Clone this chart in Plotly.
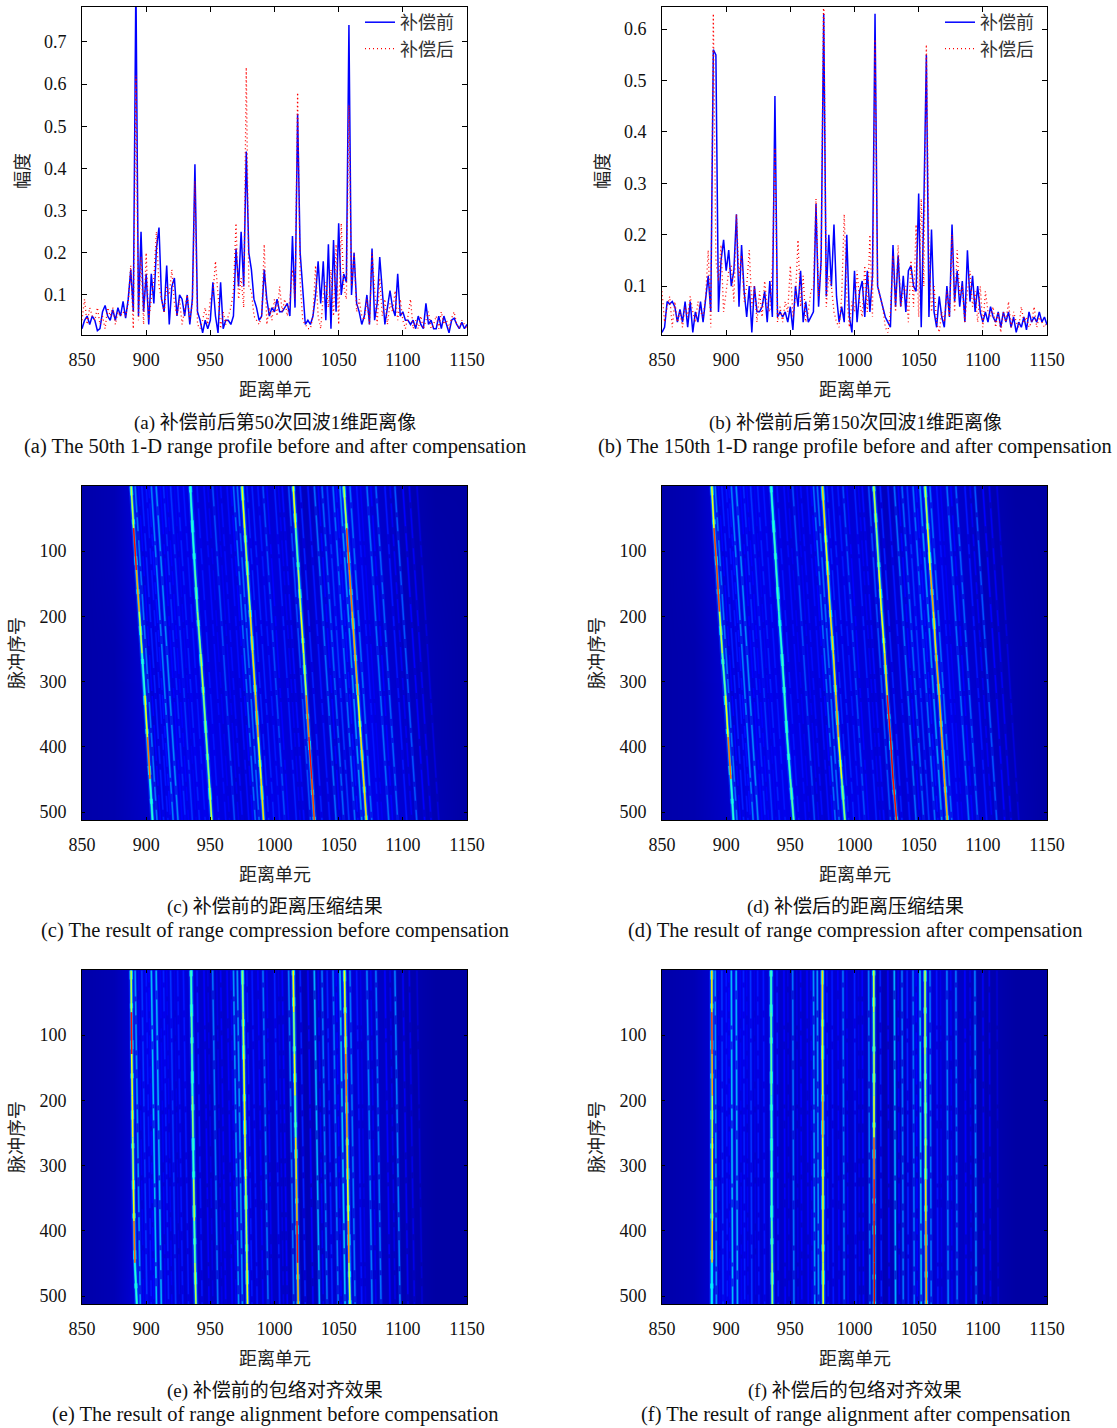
import plotly.graph_objects as go

# ---------- line-profile data (range cells 850..1150, every 2) ----------
range_cells = list(range(850, 1151, 2))
a_before = [
 .02,.04,.05,.03,.05,.04,.015,.02,.06,.075,
 .05,.04,.065,.04,.07,.05,.085,.045,.09,.16,
 .06,.85,.05,.25,.06,.15,.03,.15,.08,.21,
 .26,.09,.06,.17,.03,.12,.14,.05,.10,.09,
 .05,.10,.03,.09,.41,.06,.04,.01,.04,.02,
 .04,.13,.05,.01,.13,.02,.04,.04,.03,.05,
 .21,.12,.25,.12,.44,.20,.16,.09,.07,.04,
 .05,.16,.09,.05,.07,.06,.09,.06,.06,.07,
 .08,.05,.24,.07,.53,.20,.11,.03,.04,.03,
 .05,.10,.18,.08,.18,.04,.22,.02,.23,.06,
 .27,.10,.15,.13,.74,.10,.20,.08,.06,.03,
 .05,.10,.03,.21,.04,.08,.19,.10,.03,.07,
 .11,.07,.05,.15,.05,.06,.04,.04,.03,.04,
 .02,.05,.03,.02,.08,.03,.04,.02,.02,.05,
 .02,.05,.03,.01,.04,.045,.03,.02,.035,.02,.03]
a_after = [
 .04,.09,.03,.07,.05,.04,.07,.03,.05,.02,
 .07,.05,.07,.03,.06,.05,.06,.05,.08,.17,
 .02,.62,.04,.19,.03,.20,.04,.09,.14,.25,
 .12,.09,.06,.12,.10,.16,.08,.05,.09,.03,
 .07,.10,.04,.08,.37,.03,.02,.04,.07,.03,
 .09,.10,.18,.09,.02,.06,.03,.05,.07,.11,
 .27,.09,.14,.07,.64,.12,.11,.05,.04,.03,
 .05,.22,.03,.07,.04,.09,.05,.12,.06,.09,
 .05,.09,.16,.09,.58,.13,.04,.03,.02,.02,
 .05,.17,.05,.02,.10,.13,.07,.16,.05,.22,
 .03,.27,.12,.09,.55,.12,.20,.06,.09,.05,
 .04,.09,.03,.20,.11,.03,.14,.05,.09,.03,
 .08,.06,.11,.04,.09,.04,.02,.05,.09,.02,
 .04,.02,.05,.02,.04,.06,.02,.03,.05,.02,
 .06,.03,.04,.02,.045,.06,.03,.02,.04,.03,.02]
b_before = [
 .01,.02,.07,.065,.07,.06,.03,.055,.03,.07,
 .02,.07,.01,.05,.03,.07,.03,.07,.12,.05,
 .56,.55,.05,.15,.19,.13,.17,.10,.13,.24,
 .06,.18,.09,.04,.10,.01,.10,.05,.05,.06,
 .09,.03,.11,.04,.47,.04,.05,.04,.05,.03,
 .06,.015,.10,.06,.13,.03,.07,.03,.04,.05,
 .26,.06,.15,.63,.08,.20,.10,.22,.08,.03,
 .06,.03,.20,.04,.01,.13,.03,.09,.11,.04,
 .13,.05,.12,.63,.10,.08,.06,.04,.03,.02,
 .18,.06,.16,.06,.12,.05,.13,.14,.10,.09,
 .28,.02,.25,.55,.04,.21,.05,.02,.08,.04,
 .02,.10,.04,.22,.07,.13,.06,.11,.03,.17,
 .07,.12,.05,.10,.05,.03,.05,.03,.06,.04,
 .03,.05,.02,.05,.03,.05,.02,.04,.01,.03,
 .02,.04,.015,.05,.03,.04,.03,.05,.03,.04,.025]
b_after = [
 .09,.03,.06,.08,.02,.07,.03,.05,.02,.06,
 .04,.08,.05,.03,.07,.05,.04,.08,.17,.02,
 .63,.15,.11,.18,.05,.09,.13,.14,.07,.24,
 .12,.16,.07,.10,.17,.06,.10,.03,.09,.04,
 .11,.06,.05,.14,.37,.03,.06,.03,.07,.05,
 .14,.04,.08,.19,.06,.12,.03,.05,.09,.10,
 .27,.08,.14,.68,.06,.12,.10,.05,.03,.02,
 .08,.24,.08,.02,.07,.05,.13,.07,.04,.14,
 .05,.20,.04,.58,.10,.08,.06,.02,.01,.05,
 .16,.05,.18,.06,.09,.10,.03,.15,.06,.22,
 .04,.27,.10,.57,.17,.05,.10,.03,.01,.05,
 .03,.09,.04,.20,.05,.17,.08,.10,.03,.09,
 .13,.06,.09,.03,.10,.02,.09,.05,.04,.06,
 .02,.05,.01,.05,.03,.07,.02,.05,.03,.02,
 .06,.03,.04,.02,.03,.06,.02,.04,.03,.02,.03]

# ---------- image-panel data ----------
bg_cols = list(range(850, 1151, 25))
bg_rows = [1, 128, 256, 384, 512]
bg_slanted = [
 [.035,.045,.09,.09,.07,.08,.07,.05,.09,.07,.045,.03,.03],
 [.035,.045,.08,.09,.08,.08,.08,.06,.09,.08,.05,.035,.03],
 [.035,.04,.07,.09,.08,.08,.08,.06,.09,.08,.055,.04,.03],
 [.035,.04,.065,.09,.09,.07,.08,.07,.07,.09,.065,.04,.03],
 [.035,.04,.06,.09,.09,.07,.09,.07,.07,.09,.07,.045,.03]]
bg_aligned = [
 [.035,.045,.09,.08,.06,.07,.07,.045,.08,.065,.045,.03,.03],
 [.035,.045,.09,.08,.06,.07,.07,.045,.08,.065,.045,.03,.03],
 [.035,.045,.08,.07,.06,.07,.06,.045,.07,.065,.045,.03,.03],
 [.035,.045,.08,.07,.06,.07,.06,.045,.07,.065,.045,.03,.03],
 [.035,.045,.09,.07,.06,.07,.06,.045,.07,.065,.045,.03,.03]]

main_rows = [1, 65, 129, 193, 257, 321, 385, 449, 512]
main_c = [
 [888.3,890.2,892.4,894.6,896.8,899,901,903,905],
 [934.4,936,938,940,942.5,944.7,946.8,949,951],
 [974.7,976.7,978.8,981,983,985.2,987.3,989.5,991.5],
 [1014.6,1016.5,1018.5,1020.5,1022.7,1024.7,1026.8,1029,1031],
 [1054,1056.2,1058.3,1060.5,1062.7,1065,1067.2,1069.4,1071.6]]
main_d = [
 [888.8,890.5,892.8,894.8,897,899.5,901.5,903.7,905.7],
 [935,937,939,941,943.5,945.5,947.5,950,952.6],
 [975,977,979,981,983.5,985.5,987.5,990,992.5],
 [1015,1017,1019,1021,1023.5,1025.5,1028,1030,1032.8],
 [1055,1057,1059,1061.5,1063.5,1066,1068,1070,1072.4]]
main_e = [
 [888.3,888.5,888.7,889.2,889.5,890,890.5,891.2,892.7],
 [935,935.3,935.7,936,936.5,937,937.5,938,938.8],
 [975,975.5,976,976.5,977,977.5,978,978.5,979],
 [1014.6,1015,1015.5,1016,1016.5,1017,1017.5,1018,1018.5],
 [1054.5,1055,1055.5,1056,1056.5,1057,1057.5,1058,1058.8]]
main_f = [
 [888.8,888.8,889,889.2,889.2,889.2,889.2,889,888.8],
 [935,935,935.2,935.2,935.4,935.4,935.5,935.8,936],
 [975,975,975,975.2,975.2,975.4,975.4,975.5,975.6],
 [1015,1015,1015.2,1015.2,1015.2,1015.3,1015.3,1015.4,1015.4],
 [1055,1055,1055,1055.2,1055.4,1055.4,1055.6,1055.8,1056]]
level_c = [
 [.55,.85,.7,.55,.4,.6,.75,.4],[.4,.4,.45,.5,.55,.5,.5,.55],
 [.6,.55,.55,.65,.65,.7,.6,.65],[.6,.45,.55,.6,.55,.75,.85,.8],
 [.55,.8,.75,.7,.7,.6,.65,.65]]
level_d = [
 [.6,.8,.8,.55,.45,.6,.75,.4],[.4,.42,.42,.4,.42,.42,.42,.45],
 [.65,.6,.65,.65,.65,.7,.6,.5],[.55,.5,.6,.6,.65,.85,.88,.85],
 [.55,.6,.7,.65,.7,.7,.72,.7]]
level_e = [
 [.55,.85,.6,.62,.55,.62,.75,.4],[.42,.45,.42,.5,.42,.55,.45,.55],
 [.5,.55,.6,.62,.6,.55,.55,.6],[.62,.5,.6,.45,.65,.7,.85,.7],
 [.6,.65,.75,.72,.65,.6,.72,.55]]
level_f = [
 [.65,.8,.7,.55,.6,.55,.65,.35],[.42,.45,.45,.42,.42,.42,.45,.5],
 [.65,.62,.62,.68,.62,.62,.62,.6],[.55,.5,.55,.6,.78,.85,.9,.9],
 [.55,.55,.5,.5,.55,.65,.72,.72]]

minor_x = [891.4,896.6,900,904,907.8,913.5,919,924.5,929,939.6,945,951.8,958,963,968,971,978.5,
           982.5,987,991,1000,1006,1011,1020,1026,1031,1037,1041,1045.6,1051,1058.8,1064,1072,
           1079,1086,1093.8,1100,1105,1111,
           894,902,911,916,922,948,955,966,974,994,1003,1034,1048,1067,1075,1090]
minor_level_cd = [.22,.14,.13,.23,.24,.15,.16,.14,.13,.13,.12,.18,.12,.12,.21,.21,.14,.14,.13,.18,.14,.12,
                  .18,.14,.13,.21,.2,.16,.21,.25,.21,.13,.21,.2,.13,.19,.11,.1,.08,
                  .11,.12,.11,.11,.1,.1,.1,.11,.11,.11,.1,.11,.12,.1,.11,.1]
minor_level_ef = [.25,.16,.13,.29,.28,.14,.16,.13,.13,.13,.11,.22,.11,.11,.25,.25,.13,.13,.11,.22,.14,.11,
                  .22,.14,.11,.28,.22,.14,.22,.3,.22,.13,.23,.22,.11,.23,.1,.09,.07,
                  .1,.11,.1,.1,.09,.09,.09,.1,.1,.1,.09,.1,.11,.09,.1,.09]
minor_drift = {"c": 17, "d": 17, "e": 4, "f": 1}
minor_dash = ["26px,5px,14px,9px", "40px,7px,18px,6px", "16px,6px,30px,10px", "55px,4px,12px,8px",
              "20px,9px,36px,5px", "12px,5px,24px,7px", "48px,10px,10px,4px"]
bead_dash = ["9px,24px,5px,32px", "6px,28px,12px,21px", "14px,35px,7px,19px", "5px,22px,9px,40px", "11px,26px,6px,23px"]

# ---------- text ----------
x_ticks = [850, 900, 950, 1000, 1050, 1100, 1150]
pulse_ticks = [100, 200, 300, 400, 500]
amp_ticks_a = [0.1, 0.2, 0.3, 0.4, 0.5, 0.6, 0.7]
amp_ticks_b = [0.1, 0.2, 0.3, 0.4, 0.5, 0.6]
legend_names = ["补偿前", "补偿后"]
xlabel, ylabel_line, ylabel_img = "距离单元", "幅度", "脉冲序号"
captions = [
 ("(a) 补偿前后第50次回波1维距离像", "(a) The 50th 1-D range profile before and after compensation", 275, 423),
 ("(b) 补偿前后第150次回波1维距离像", "(b) The 150th 1-D range profile before and after compensation", 855, 423),
 ("(c) 补偿前的距离压缩结果", "(c) The result of range compression before compensation", 275, 907),
 ("(d) 补偿后的距离压缩结果", "(d) The result of range compression after compensation", 855, 907),
 ("(e) 补偿前的包络对齐效果", "(e) The result of range alignment before compensation", 275, 1391),
 ("(f) 补偿后的包络对齐效果", "(f) The result of range alignment after compensation", 855, 1391),
]

# ---------- layout helpers ----------
W, H = 1117, 1428
FONT = "'Liberation Serif','Noto Sans CJK SC',serif"
CJK = "'Noto Sans CJK SC',sans-serif"
JET = [[0, "rgb(0,0,130)"], [.11, "rgb(0,0,255)"], [.36, "rgb(0,255,255)"],
       [.61, "rgb(255,255,0)"], [.86, "rgb(255,0,0)"], [1, "rgb(128,0,0)"]]

def jet(v):
    stops = [(0, (0, 0, 130)), (.11, (0, 0, 255)), (.36, (0, 255, 255)),
             (.61, (255, 255, 0)), (.86, (255, 0, 0)), (1, (128, 0, 0))]
    for (a, ca), (b, cb) in zip(stops, stops[1:]):
        if v <= b:
            t = (v - a) / (b - a)
            return "rgb(%d,%d,%d)" % tuple(round(p + (q - p) * t) for p, q in zip(ca, cb))
    return "rgb(128,0,0)"

fig = go.Figure()
anns = []
layout = dict(width=W, height=H, margin=dict(l=0, r=0, t=0, b=0), autosize=False,
              paper_bgcolor="white", plot_bgcolor="white", showlegend=True,
              font=dict(family=FONT, size=18, color="#111"))

def label(text, px, py, angle=0):
    anns.append(dict(text=text, x=px / W, y=1 - py / H, xref="paper", yref="paper", xanchor="center",
                     yanchor="middle", textangle=angle, showarrow=False,
                     font=dict(family=CJK, size=18, color="#222")))

def axes(idx, left, right, top, bottom, xr, yr, yt, ytext, title, ticklen, title_off):
    sx = "" if idx == 1 else str(idx)
    common = dict(showline=True, linecolor="black", linewidth=1, mirror="allticks", ticks="inside",
                  tickcolor="black", showgrid=False, zeroline=False,
                  tickfont=dict(family=FONT, size=18, color="#111"), ticklen=ticklen, automargin=False)
    layout["xaxis" + sx] = dict(common, domain=[left / W, right / W], range=xr, tickvals=x_ticks,
                                anchor="y" + sx, ticklabelstandoff=8)
    layout["yaxis" + sx] = dict(common, domain=[1 - bottom / H, 1 - top / H], range=yr, tickvals=yt,
                                ticktext=ytext, anchor="x" + sx, ticklabelstandoff=11)
    label(xlabel, (left + right) / 2, bottom + 53)
    label(title, left - title_off, (top + bottom) / 2, -90)

def line_panel(idx, left, yr, yt, before, after, legend_name, legend_x):
    axes(idx, left, left + 385, 7, 335, [850, 1150], yr, yt, ["%.1f" % t for t in yt], ylabel_line, 5, 61)
    sx = "" if idx == 1 else str(idx)
    fig.add_trace(go.Scatter(x=range_cells, y=before, mode="lines", name=legend_names[0], xaxis="x" + sx,
                             yaxis="y" + sx, legend=legend_name, line=dict(color="rgb(0,0,255)", width=1.5)))
    fig.add_trace(go.Scatter(x=range_cells, y=after, mode="lines", name=legend_names[1], xaxis="x" + sx,
                             yaxis="y" + sx, legend=legend_name, line=dict(color="rgb(255,0,0)", width=1.3, dash="1px,3px")))
    layout[legend_name] = dict(x=legend_x / W, y=1 - 4 / H, xanchor="left", yanchor="top", bgcolor="rgba(0,0,0,0)",
                               font=dict(family=CJK, size=18, color="#333"), itemwidth=30, tracegroupgap=0)

def image_panel(idx, key, left, top, bg, mains, levels, minor_levels):
    axes(idx, left, left + 385, top, top + 334, [850, 1150], [512, 0.4], pulse_ticks,
         [str(t) for t in pulse_ticks], ylabel_img, 3, 67)
    sx = str(idx)
    common = dict(xaxis="x" + sx, yaxis="y" + sx, showlegend=False, hoverinfo="skip", mode="lines")
    fig.add_trace(go.Heatmap(x=bg_cols, y=bg_rows, z=bg, colorscale=JET, zmin=0, zmax=1, zsmooth="best",
                             showscale=False, xaxis="x" + sx, yaxis="y" + sx, hoverinfo="skip"))
    drift = minor_drift[key]
    for n, (mx, ml) in enumerate(zip(minor_x, minor_levels)):
        ends = dict(x=[mx, mx + drift], y=[main_rows[0], main_rows[-1]])
        fig.add_trace(go.Scatter(line=dict(color=jet(ml * .8), width=3), opacity=.4, **ends, **common))
        fig.add_trace(go.Scatter(line=dict(color=jet(ml), width=1.5, dash=minor_dash[n % 7]), **ends, **common))
    for n, xs in enumerate(mains):
        fig.add_trace(go.Scatter(x=xs, y=main_rows, line=dict(color=jet(.16), width=5), opacity=.6, **common))
        fig.add_trace(go.Scatter(x=xs, y=main_rows, line=dict(color=jet(.28), width=2.6), **common))
        fig.add_trace(go.Scatter(x=xs, y=main_rows, line=dict(color=jet(.32), width=3.2, dash=bead_dash[n]), **common))
    for xs, lv in zip(mains, levels):
        for i, v in enumerate(lv):
            fig.add_trace(go.Scatter(x=xs[i:i + 2], y=main_rows[i:i + 2],
                                     line=dict(color=jet(v), width=1.5), **common))

line_panel(1, 82, [0.005, 0.783], amp_ticks_a, a_before, a_after, "legend", 360)
line_panel(2, 662, [0.005, 0.643], amp_ticks_b, b_before, b_after, "legend2", 940)
image_panel(3, "c", 82, 486, bg_slanted, main_c, level_c, minor_level_cd)
image_panel(4, "d", 662, 486, bg_slanted, main_d, level_d, minor_level_cd)
image_panel(5, "e", 82, 970, bg_aligned, main_e, level_e, minor_level_ef)
image_panel(6, "f", 662, 970, bg_aligned, main_f, level_f, minor_level_ef)

for zh, en, cx, py in captions:
    anns.append(dict(text=zh, x=cx / W, y=1 - py / H, xref="paper", yref="paper", xanchor="center", yanchor="middle",
                     showarrow=False, font=dict(family=FONT, size=19, color="#111")))
    anns.append(dict(text=en, x=cx / W, y=1 - (py + 23) / H, xref="paper", yref="paper", xanchor="center", yanchor="middle",
                     showarrow=False, font=dict(family=FONT, size=20.5, color="#111")))
layout["annotations"] = anns
fig.update_layout(**layout)
fig.write_html("out.html", post_script="document.body.style.margin='0';", config={"displayModeBar": False})
